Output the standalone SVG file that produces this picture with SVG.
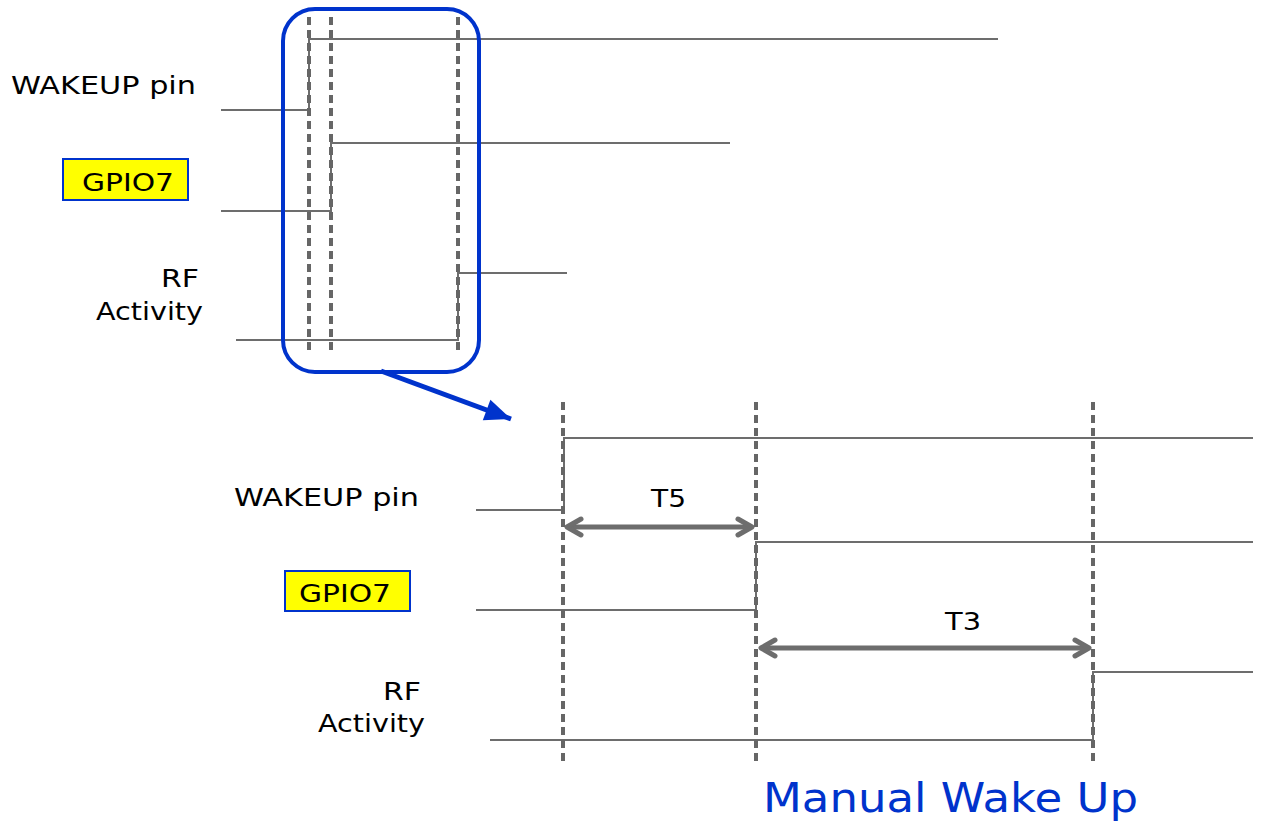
<svg xmlns="http://www.w3.org/2000/svg" width="1261" height="825" viewBox="0 0 1261 825">
<defs>
<style>
.sig{stroke:#6d6d6d;stroke-width:2;fill:none}
.dash{stroke:#666666;stroke-width:4;stroke-dasharray:8,5;fill:none}
.lbl{font-family:"DejaVu Sans",sans-serif;font-size:25px;fill:#000}
.box{fill:#ffff00;stroke:#0033cc;stroke-width:2}
.dim{stroke:#6d6d6d;stroke-width:5;fill:none;marker-start:url(#chevS);marker-end:url(#chevE)}
</style>
<marker id="chevE" markerUnits="userSpaceOnUse" viewBox="-20 -12 24 24" markerWidth="24" markerHeight="24" refX="0" refY="0" orient="auto">
<path d="M-14,-8 L0,0 L-14,8" fill="none" stroke="#6d6d6d" stroke-width="5" stroke-linecap="round" stroke-linejoin="round"/>
</marker>
<marker id="chevS" markerUnits="userSpaceOnUse" viewBox="-4 -12 24 24" markerWidth="24" markerHeight="24" refX="0" refY="0" orient="auto">
<path d="M14,-8 L0,0 L14,8" fill="none" stroke="#6d6d6d" stroke-width="5" stroke-linecap="round" stroke-linejoin="round"/>
</marker>
<marker id="blueHead" markerUnits="userSpaceOnUse" viewBox="-28 -12 30 24" markerWidth="30" markerHeight="24" refX="0" refY="0" orient="auto">
<path d="M-26,-11 L0,0 L-26,11 Z" fill="#0033cc"/>
</marker>
</defs>

<g id="top-overview">
<g id="top-labels">
<text class="lbl" x="11" y="94" textLength="185" lengthAdjust="spacingAndGlyphs">WAKEUP pin</text>
<rect class="box" x="63" y="159" width="125" height="41"/>
<text class="lbl" x="82" y="191" textLength="92" lengthAdjust="spacingAndGlyphs">GPIO7</text>
<text class="lbl" x="161" y="287" textLength="38" lengthAdjust="spacingAndGlyphs">RF</text>
<text class="lbl" x="96" y="320" textLength="107" lengthAdjust="spacingAndGlyphs">Activity</text>
</g>
<g id="top-signals">
<polyline class="sig" points="221,110 309,110 309,39 998,39"/>
<polyline class="sig" points="221,211 331,211 331,143 730,143"/>
<polyline class="sig" points="236,340 458,340 458,273 567,273"/>
</g>
<g id="top-markers">
<line class="dash" x1="309" y1="17" x2="309" y2="355"/>
<line class="dash" x1="331" y1="17" x2="331" y2="355"/>
<line class="dash" x1="458" y1="17" x2="458" y2="355"/>
</g>
<rect id="zoom-frame" x="283" y="9" width="196" height="363" rx="32" ry="32" fill="none" stroke="#0033cc" stroke-width="4"/>
</g>

<g id="connectors">
<line x1="381" y1="371" x2="511" y2="419" stroke="#0033cc" stroke-width="5" marker-end="url(#blueHead)"/>
<line class="dim" x1="567" y1="527" x2="752" y2="527"/>
<line class="dim" x1="761" y1="648" x2="1089" y2="648"/>
</g>

<g id="detail">
<g id="detail-labels">
<text class="lbl" x="234" y="506" textLength="185" lengthAdjust="spacingAndGlyphs">WAKEUP pin</text>
<rect class="box" x="285" y="571" width="125" height="40"/>
<text class="lbl" x="299" y="602" textLength="92" lengthAdjust="spacingAndGlyphs">GPIO7</text>
<text class="lbl" x="383" y="700" textLength="38" lengthAdjust="spacingAndGlyphs">RF</text>
<text class="lbl" x="318" y="732" textLength="107" lengthAdjust="spacingAndGlyphs">Activity</text>
<text class="lbl" x="651" y="507" textLength="35" lengthAdjust="spacingAndGlyphs">T5</text>
<text class="lbl" x="945" y="630" textLength="36" lengthAdjust="spacingAndGlyphs">T3</text>
</g>
<g id="detail-signals">
<polyline class="sig" points="476,510 564,510 564,438 1253,438"/>
<polyline class="sig" points="476,610 756,610 756,542 1253,542"/>
<polyline class="sig" points="490,740 1093,740 1093,672 1253,672"/>
</g>
<g id="detail-markers">
<line class="dash" x1="563" y1="402" x2="563" y2="766"/>
<line class="dash" x1="756" y1="402" x2="756" y2="766"/>
<line class="dash" x1="1093" y1="402" x2="1093" y2="766"/>
</g>
<text id="title" x="763" y="812" font-family="DejaVu Sans, sans-serif" font-size="40" fill="#0033cc" textLength="375" lengthAdjust="spacingAndGlyphs">Manual Wake Up</text>
</g>
</svg>
